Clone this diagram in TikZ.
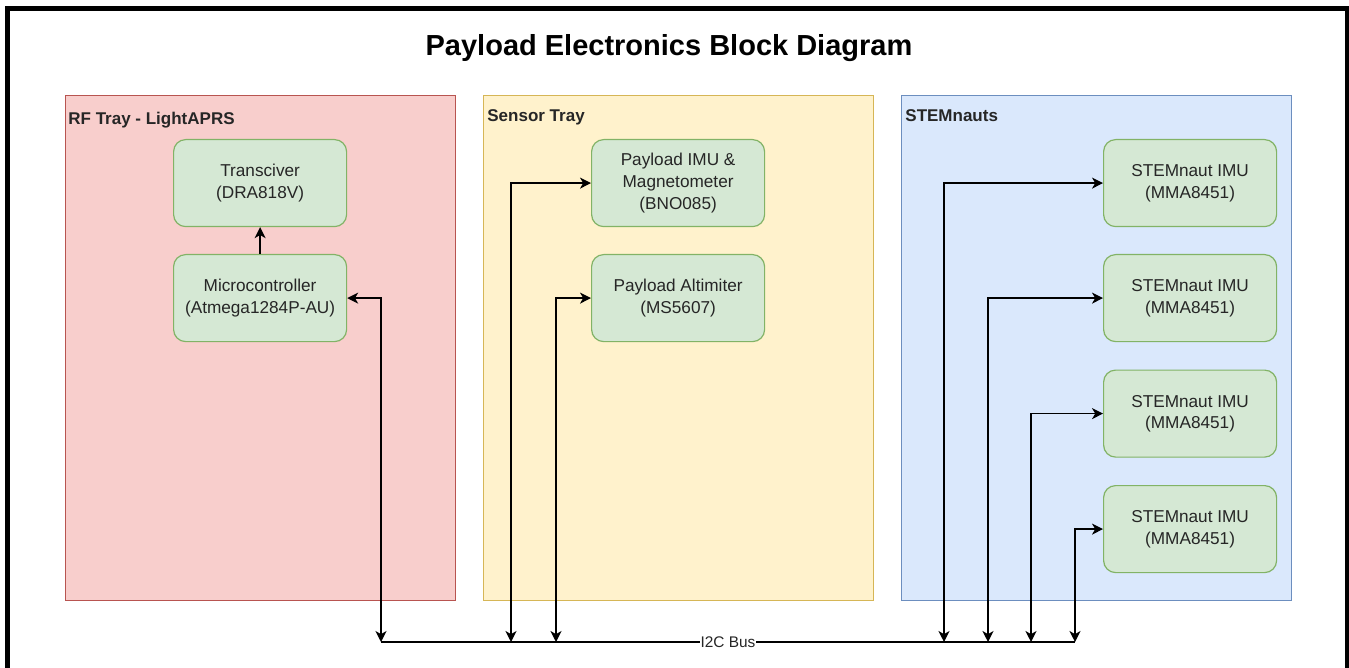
\documentclass[tikz,border=0pt]{standalone}
\usepackage{fontspec}
\setmainfont{Liberation Sans}
\usetikzlibrary{
  arrows.meta,
  positioning
}
\definecolor{trayRed}{HTML}{F8CECC}
\definecolor{trayRedLine}{HTML}{B85450}
\definecolor{trayYellow}{HTML}{FFF2CC}
\definecolor{trayYellowLine}{HTML}{D6B656}
\definecolor{trayBlue}{HTML}{DAE8FC}
\definecolor{trayBlueLine}{HTML}{6C8EBF}
\definecolor{partGreen}{HTML}{D5E8D4}
\definecolor{partGreenLine}{HTML}{82B366}
\definecolor{inkGray}{HTML}{262626}
\tikzset{
  trayBox/.style={
    draw,
    line width=0.6pt,
    minimum width=195pt,
    minimum height=252.5pt,
    inner sep=0pt,
    anchor=north west
  },
  trayLabel/.style={
    font=\bfseries\fontsize{8.5}{10}\selectfont,
    anchor=base west,
    inner sep=0pt,
    text=inkGray
  },
  partBox/.style={
    draw=partGreenLine,
    fill=partGreen,
    line width=0.6pt,
    rounded corners=6pt,
    minimum width=86.5pt,
    minimum height=43.5pt,
    align=center,
    font=\fontsize{8.6}{10.8}\selectfont,
    text=inkGray,
    inner sep=2pt,
    anchor=north west
  },
  busTip/.tip={Stealth[length=5.5pt,width=5.5pt,inset=1.6pt]},
  busArrow/.style={busTip-busTip, line width=0.65pt},
  partArrow/.style={-busTip, line width=0.65pt},
  busLine/.style={line width=0.65pt},
  busLabel/.style={
    fill=white,
    inner sep=0.5pt,
    font=\fontsize{7.7}{9}\selectfont,
    text=inkGray
  }
}

\begin{document}
\begin{tikzpicture}[x=0.5pt,y=-0.5pt]
  \clip (0,0) rectangle (1349,668);
  \fill[white] (0,0) rectangle (1349,668);
  \draw[line width=2.3pt] (7.5,8.5) rectangle (1347.3,720);

  \node[font=\bfseries\fontsize{14.5}{17}\selectfont, anchor=base]
    (title) at (669,56) {Payload Electronics Block Diagram};

  \node[trayBox, draw=trayRedLine, fill=trayRed] (rfTray) at (65,95) {};
  \node[trayBox, draw=trayYellowLine, fill=trayYellow] (sensorTray) at (483,95) {};
  \node[trayBox, draw=trayBlueLine, fill=trayBlue] (stemTray) at (901,95) {};

  \node[trayLabel] (rfLabel) at (68,125) {RF Tray - LightAPRS};
  \node[trayLabel] (sensorLabel) at (487,122) {Sensor Tray};
  \node[trayLabel] (stemLabel) at (905,122) {STEMnauts};

  \node[partBox] (radio) at (173,139) {Transciver\\(DRA818V)};
  \node[partBox] (mcu) at (173,254) {Microcontroller\\(Atmega1284P-AU)};
  \node[partBox] (imu) at (591,139) {Payload IMU \&\\Magnetometer\\(BNO085)};
  \node[partBox] (alt) at (591,254) {Payload Altimiter\\(MS5607)};
  \node[partBox] (stemA) at (1103,139) {STEMnaut IMU\\(MMA8451)};
  \node[partBox] (stemB) at (1103,254) {STEMnaut IMU\\(MMA8451)};
  \node[partBox] (stemC) at (1103,369.5) {STEMnaut IMU\\(MMA8451)};
  \node[partBox] (stemD) at (1103,485) {STEMnaut IMU\\(MMA8451)};

  \coordinate (busMcu) at (381,642);
  \coordinate (busImu) at (511,642);
  \coordinate (busAlt) at (556,642);
  \coordinate (busA) at (944,642);
  \coordinate (busB) at (988,642);
  \coordinate (busC) at (1031,642);
  \coordinate (busD) at (1075,642);

  \draw[partArrow] (mcu.north) -- (radio.south);

  \draw[busLine] (busMcu) -- node[busLabel] {I2C Bus} (busD);
  \draw[busArrow] (mcu.east) -| (busMcu);
  \draw[busArrow] (imu.west) -| (busImu);
  \draw[busArrow] (alt.west) -| (busAlt);
  \draw[busArrow] (stemA.west) -| (busA);
  \draw[busArrow] (stemB.west) -| (busB);
  \draw[busArrow] (stemC.west) -| (busC);
  \draw[busArrow] (stemD.west) -| (busD);
\end{tikzpicture}
\end{document}
